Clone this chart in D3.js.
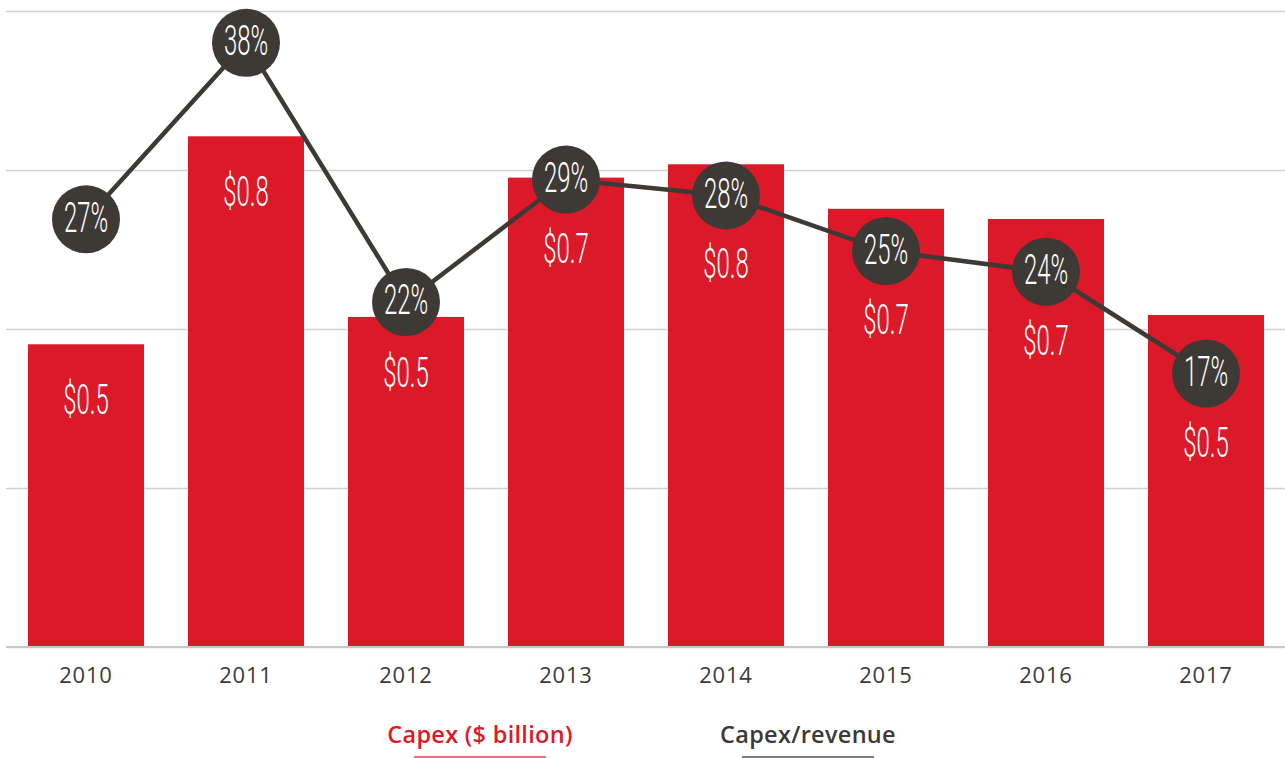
<!DOCTYPE html>
<html>
<head>
<meta charset="utf-8">
<script src="https://cdn.jsdelivr.net/npm/d3@7/dist/d3.min.js"></script>
<style>
  html, body { margin: 0; padding: 0; background: #ffffff; }
  svg { display: block; }
</style>
</head>
<body>
<svg id="chart" width="1285" height="758"></svg>
<script>
// Capital expenditure, $ billion, by year
const years = ["2010", "2011", "2012", "2013", "2014", "2015", "2016", "2017"];
const capex = [0.476, 0.803, 0.519, 0.738, 0.759, 0.689, 0.673, 0.522];
// Capex as a share of revenue, %
const capexRevenue = [26.9, 38.0, 21.7, 29.4, 28.4, 24.9, 23.6, 17.2];
// Gridline positions on the capex axis
const capexTicks = [0, 0.25, 0.5, 0.75, 1.0];
const legendItems = ["Capex ($ billion)", "Capex/revenue"];

const RED = "#dc1928";
const DARK = "#3d3935";

const svg = d3.select("#chart");
const W = 1285;
const plotTop = 11, plotBottom = 647, plotLeft = 6;

const x = d3.scaleBand()
  .domain(years)
  .range([plotLeft, plotLeft + 1280])
  .paddingInner(0.275)
  .paddingOuter(0.1375);

const y = d3.scaleLinear().domain([0, 1.0]).range([plotBottom, plotTop]);
const yPct = d3.scaleLinear().domain([0, 40]).range([plotBottom, plotTop]);

// Horizontal gridlines
const grid = d3.axisLeft(y).tickValues(capexTicks).tickSize(-(W - plotLeft)).tickFormat("");
svg.append("g")
  .attr("transform", `translate(${plotLeft},0)`)
  .call(grid)
  .call(g => g.select(".domain").remove())
  .call(g => g.selectAll(".tick line")
    .attr("stroke", "#d2d2d2")
    .attr("stroke-width", 1.5));

// Bars
svg.append("g").selectAll("rect")
  .data(years)
  .join("rect")
  .attr("x", d => x(d))
  .attr("width", x.bandwidth())
  .attr("y", (d, i) => y(capex[i]))
  .attr("height", (d, i) => y(0) - y(capex[i]))
  .attr("fill", RED);

// Baseline
svg.append("line")
  .attr("x1", plotLeft).attr("x2", W)
  .attr("y1", y(0)).attr("y2", y(0))
  .attr("stroke", "#c8c8c8").attr("stroke-width", 2);

// Year axis
const xAxis = d3.axisBottom(x).tickSize(0).tickPadding(0);
svg.append("g")
  .attr("transform", `translate(0,${plotBottom})`)
  .call(xAxis)
  .call(g => g.select(".domain").remove())
  .call(g => g.selectAll(".tick text")
    .attr("y", 36)
    .attr("dy", 0)
    .attr("fill", DARK)
    .style("font-family", "'Open Sans', Lato, sans-serif")
    .style("font-size", "22px")
    .style("letter-spacing", "0.8px")
    .style("font-weight", 400));

// Ratio line with circle markers
const cx = (d, i) => x(years[i]) + x.bandwidth() / 2;
const line = d3.line()
  .x((d, i) => cx(d, i))
  .y(d => yPct(d));

svg.append("path")
  .datum(capexRevenue)
  .attr("d", line)
  .attr("fill", "none")
  .attr("stroke", DARK)
  .attr("stroke-width", 4.5);

const R = 34;
svg.append("g").selectAll("circle")
  .data(capexRevenue)
  .join("circle")
  .attr("cx", cx)
  .attr("cy", d => yPct(d))
  .attr("r", R)
  .attr("fill", DARK);

// Condensed numeric label
function condensedLabel(g, tx, ty, str) {
  g.append("text")
    .attr("transform", `translate(${tx},${ty}) scale(0.57,1)`)
    .attr("text-anchor", "middle")
    .attr("fill", "#ffffff")
    .style("font-family", "Roboto, 'Open Sans', sans-serif")
    .style("font-weight", 300)
    .style("font-size", "42px")
    .text(str);
}

const labels = svg.append("g");
capexRevenue.forEach((v, i) => {
  condensedLabel(labels, cx(v, i), yPct(v) + 12.5, Math.round(v) + "%");
});

capex.forEach((v, i) => {
  const top = y(v);
  const circleBottom = yPct(capexRevenue[i]) + R;
  const baseline = Math.max(top + 70, circleBottom + 49);
  condensedLabel(labels, cx(v, i), baseline, "$" + d3.format(".1f")(v));
});

// Legend
const legend = svg.append("g");
const legendX = [480, 808];
const legendColors = [RED, DARK];
legendItems.forEach((name, i) => {
  legend.append("text")
    .attr("x", legendX[i])
    .attr("y", 743)
    .attr("text-anchor", "middle")
    .attr("fill", legendColors[i])
    .style("font-family", "'Open Sans', Lato, sans-serif")
    .style("font-weight", 600)
    .style("font-size", "23.5px")
    .style("letter-spacing", "0.3px")
    .text(name);
  legend.append("line")
    .attr("x1", legendX[i] - 66)
    .attr("x2", legendX[i] + 66)
    .attr("y1", 757).attr("y2", 757)
    .attr("stroke", i === 0 ? "#e0404c" : "#555555")
    .attr("stroke-width", 1.5);
});
</script>
</body>
</html>
